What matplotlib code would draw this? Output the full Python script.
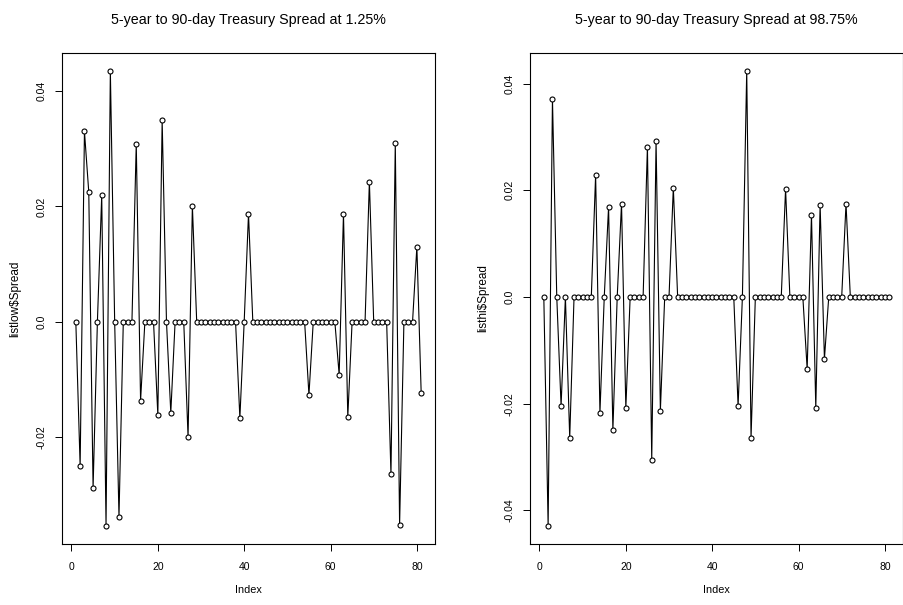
import matplotlib
matplotlib.use('Agg')
import matplotlib.pyplot as plt
from matplotlib.ticker import MultipleLocator, FuncFormatter

plt.rcParams['font.family'] = ['Liberation Sans', 'DejaVu Sans']

# spread values at the 1.25% quantile (listlow$Spread)
low_spread = [0, -0.025, 0.033, 0.0225, -0.0288, 0, 0.0219, -0.0354, 0.0435, 0,
	-0.0338, 0, 0, 0, 0.0309, -0.0137, 0, 0, 0, -0.0162,
	0.0349, 0, -0.0158, 0, 0, 0, -0.0200, 0.0201, 0, 0,
	0, 0, 0, 0, 0, 0, 0, 0, -0.0167, 0,
	0.0187, 0, 0, 0, 0, 0, 0, 0, 0, 0,
	0, 0, 0, 0, -0.0127, 0, 0, 0, 0, 0,
	0, -0.0092, 0.0187, -0.0165, 0, 0, 0, 0, 0.0243, 0,
	0, 0, 0, -0.0265, 0.0310, -0.0352, 0, 0, 0, 0.0130,
	-0.0124]

# spread values at the 98.75% quantile (listhi$Spread)
hi_spread = [0, -0.0429, 0.0372, 0, -0.0204, 0, -0.0264, 0, 0, 0,
	0, 0, 0.0229, -0.0217, 0, 0.0169, -0.0249, 0, 0.0175, -0.0208,
	0, 0, 0, 0, 0.0282, -0.0305, 0.0293, -0.0213, 0, 0,
	0.0205, 0, 0, 0, 0, 0, 0, 0, 0, 0,
	0, 0, 0, 0, 0, -0.0204, 0, 0.0424, -0.0264, 0,
	0, 0, 0, 0, 0, 0, 0.0203, 0, 0, 0,
	0, -0.0135, 0.0154, -0.0208, 0.0173, -0.0116, 0, 0, 0, 0,
	0.0175, 0, 0, 0, 0, 0, 0, 0, 0, 0,
	0]

titles = ["5-year to 90-day Treasury Spread at 1.25%", "5-year to 90-day Treasury Spread at 98.75%"]
ylabels = ["listlow$Spread", "listhi$Spread"]

W, H = 904, 605
fig = plt.figure(figsize=(W/100, H/100), dpi=100)

def yfmt(v, pos):
	if abs(v) < 1e-12:
		return '0.0'
	return '%.2f' % v

def panel(left, data, title, ylab):
	ax = fig.add_axes([left/W, (H-544)/H, 373/W, (544-52.7)/H])
	idx = list(range(1, len(data)+1))
	ax.plot(idx, data, color='black', lw=0.8, marker='o', ms=3.6,
		mfc='white', mec='black', mew=0.8)
	ax.margins(0.04)
	ax.xaxis.set_major_locator(MultipleLocator(20))
	ax.yaxis.set_major_locator(MultipleLocator(0.02))
	ax.yaxis.set_major_formatter(FuncFormatter(yfmt))
	ax.tick_params(direction='out', length=5, width=0.7, labelsize=7.5)
	ax.tick_params(axis='x', pad=8)
	ax.tick_params(axis='y', pad=6)
	for lab in ax.get_yticklabels():
		lab.set_rotation(90)
		lab.set_va('center')
	for s in ax.spines.values():
		s.set_linewidth(0.8)
	ax.set_title(title, fontsize=10.3, pad=21)
	ax.set_xlabel("Index", fontsize=7.8, labelpad=9)
	ax.set_ylabel(ylab, fontsize=8.5, labelpad=11)
	return ax

panel(62, low_spread, titles[0], ylabels[0])
panel(530, hi_spread, titles[1], ylabels[1])

fig.savefig('out.png', dpi=100)
